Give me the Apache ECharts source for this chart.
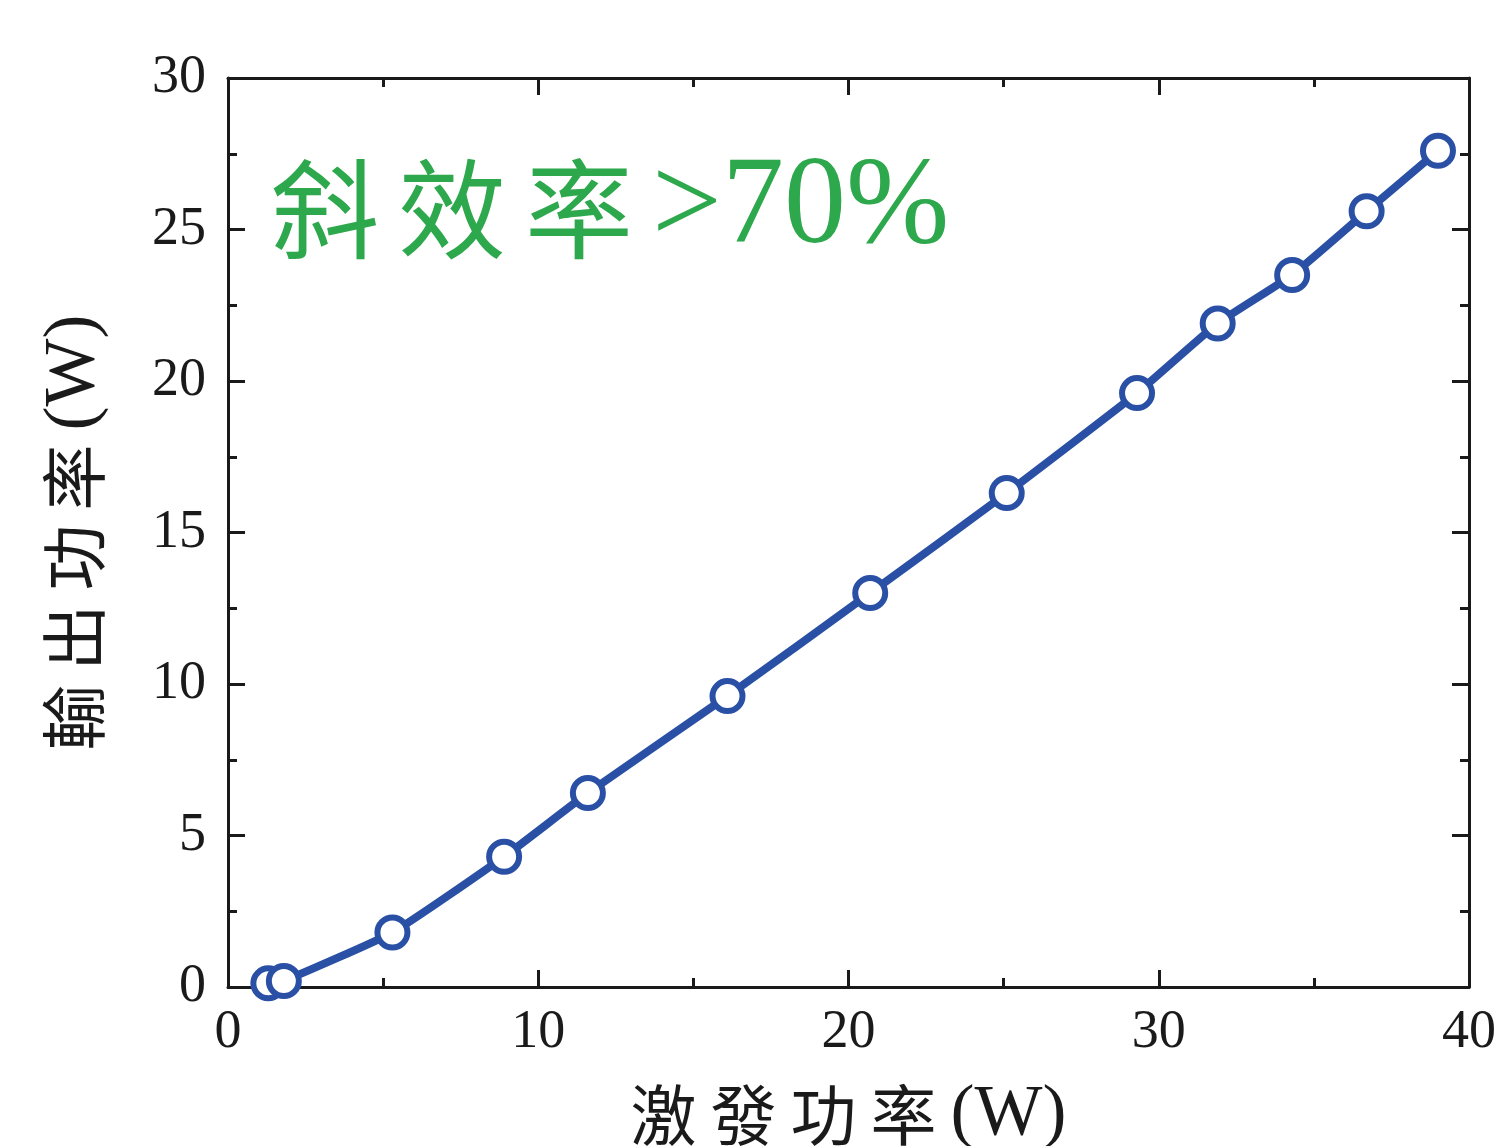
<!DOCTYPE html>
<html>
<head>
<meta charset="utf-8">
<script src="https://cdn.jsdelivr.net/npm/echarts@6/dist/echarts.min.js"></script>
<style>
  html, body { margin: 0; padding: 0; background: #ffffff; }
  #chart { width: 1504px; height: 1146px; }
</style>
</head>
<body>
<div id="chart"></div>
<script>
// Pump power (W) and measured output power (W)
const pumpPower   = [1.3, 1.8, 5.3, 8.9, 11.6, 16.1, 20.7, 25.1, 29.3, 31.9, 34.3, 36.7, 39.0];
const outputPower = [0.12, 0.2, 1.8, 4.3, 6.4, 9.6, 13.0, 16.3, 19.6, 21.9, 23.5, 25.6, 27.6];

const xTicks = { min: 0, max: 40, interval: 10 };
const yTicks = { min: 0, max: 30, interval: 5 };

const xName = ['激', '發', '功', '率', '(W)'];
const yName = ['輸', '出', '功', '率', '(W)'];
const noteCjk = ['斜', '效', '率'];
const noteLatin = '>70%';

const BLUE = '#2a50a5';
const GREEN = '#2ea84c';
const INK = '#1a1a1a';
const SERIF = '"Liberation Serif", "Times New Roman", serif';
const CJK = '"Noto Sans CJK TC", "Noto Sans CJK SC", sans-serif';

function richName(chars) {
  return chars.map((c, i) => (i < chars.length - 1 ? '{c|' + c + '}' : '{w|' + c + '}')).join('');
}

const nameRich = {
  c: { fontFamily: CJK, fontSize: 66, fontWeight: 'normal', color: INK, padding: [0, 14, 0, 0] },
  w: { fontFamily: SERIF, fontSize: 72, fontWeight: 'normal', color: INK }
};

const tickCommon = {
  axisLine: { show: true, onZero: false, lineStyle: { color: INK, width: 3 } },
  axisTick: { show: true, inside: true, length: 17, lineStyle: { color: INK, width: 3 } },
  minorTick: { show: true, splitNumber: 2, length: 9, lineStyle: { color: INK, width: 3 } },
  splitLine: { show: false },
  minorSplitLine: { show: false }
};

const labelStyle = { fontFamily: SERIF, fontSize: 54, color: INK };

const chart = echarts.init(document.getElementById('chart'), null, { renderer: 'canvas' });

chart.setOption({
  backgroundColor: '#ffffff',
  animation: false,
  title: {
    left: 266,
    top: 142,
    text: noteCjk.map(c => '{c|' + c + '}').join('') + '{n|' + noteLatin + '}',
    textStyle: {
      fontWeight: 'normal',
      rich: {
        c: { fontFamily: CJK, fontSize: 108, fontWeight: 'normal', color: GREEN, padding: [0, 19, 0, 0] },
        n: { fontFamily: SERIF, fontSize: 124, fontWeight: 'normal', color: GREEN }
      }
    }
  },
  grid: { left: 228, right: 35, top: 78, bottom: 159, containLabel: false, outerBoundsMode: 'none' },
  xAxis: [
    Object.assign({
      type: 'value', position: 'bottom',
      min: xTicks.min, max: xTicks.max, interval: xTicks.interval,
      name: richName(xName), nameLocation: 'middle', nameGap: 92,
      nameTextStyle: { rich: nameRich },
      axisLabel: Object.assign({ margin: 19 }, labelStyle)
    }, tickCommon),
    Object.assign({
      type: 'value', position: 'top',
      min: xTicks.min, max: xTicks.max, interval: xTicks.interval,
      axisLabel: { show: false }
    }, tickCommon)
  ],
  yAxis: [
    Object.assign({
      type: 'value', position: 'left',
      min: yTicks.min, max: yTicks.max, interval: yTicks.interval,
      name: richName(yName), nameLocation: 'middle', nameGap: 118,
      nameTextStyle: { rich: nameRich },
      axisLabel: Object.assign({ margin: 22 }, labelStyle)
    }, tickCommon),
    Object.assign({
      type: 'value', position: 'right',
      min: yTicks.min, max: yTicks.max, interval: yTicks.interval,
      axisLabel: { show: false }
    }, tickCommon)
  ],
  series: [{
    type: 'line',
    xAxisIndex: 0,
    yAxisIndex: 0,
    data: pumpPower.map((p, i) => [p, outputPower[i]]),
    smooth: 0.15,
    symbol: 'circle',
    symbolSize: 30,
    showAllSymbol: true,
    clip: false,
    lineStyle: { color: BLUE, width: 8 },
    itemStyle: { color: '#ffffff', borderColor: BLUE, borderWidth: 6 },
    z: 3
  }]
});
</script>
</body>
</html>
